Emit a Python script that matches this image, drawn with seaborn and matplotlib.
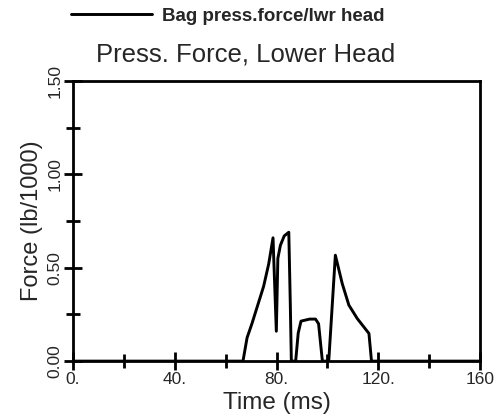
import matplotlib
matplotlib.use("Agg")
import matplotlib.pyplot as plt
import seaborn as sns
import pandas as pd
from matplotlib.ticker import MultipleLocator

time_ms = [0, 66.8, 68.4, 70.3, 74.9, 76.9, 78.6, 79.9, 80.5, 81.5, 83.0, 84.8,
           85.4, 85.8, 87.5, 88.5, 89.6, 93.0, 95.3, 96.5, 98.0, 100.5,
           103.1, 105.8, 108.4, 111.7, 116.3, 117.3, 160]
force = [0, 0, 0.125, 0.20, 0.40, 0.52, 0.66, 0.16, 0.55, 0.62, 0.67, 0.69,
         0.30, 0, 0, 0.15, 0.214, 0.225, 0.225, 0.20, 0, 0,
         0.567, 0.415, 0.30, 0.228, 0.148, 0, 0]

x_ticks = [0, 40, 80, 120, 160]
x_labels = ["0.", "40.", "80.", "120.", "160"]
y_ticks = [0, 0.5, 1.0, 1.5]
y_labels = ["0.00", "0.50", "1.00", "1.50"]

df = pd.DataFrame({"Time (ms)": time_ms, "Force": force})

sns.set_style("ticks")
plt.rcParams["font.family"] = ["Liberation Sans", "DejaVu Sans"]

fig = plt.figure(figsize=(4.95, 4.17), dpi=100)
ax = fig.add_axes([0.1475, 0.134, 0.8225, 0.672])

sns.lineplot(data=df, x="Time (ms)", y="Force", ax=ax, color="black",
             linewidth=2.1, label="Bag press.force/lwr head", sort=False)

ax.set_xlim(0, 160)
ax.set_ylim(0, 1.5)
ax.set_xticks(x_ticks)
ax.set_xticklabels(x_labels, fontsize=12.5)
ax.set_yticks(y_ticks)
ax.set_yticklabels(y_labels, fontsize=12.5, rotation=90, va="center")
ax.xaxis.set_minor_locator(MultipleLocator(20))
ax.yaxis.set_minor_locator(MultipleLocator(0.25))
ax.tick_params(which="major", direction="inout", length=13, width=2, color="black", pad=1)
ax.tick_params(which="minor", direction="inout", length=10, width=2, color="black")
for s in ax.spines.values():
    s.set_visible(True)
    s.set_linewidth(2)
    s.set_color("black")

ax.set_xlabel("Time (ms)", fontsize=17.5, labelpad=4)
ax.set_ylabel("Force (lb/1000)", fontsize=17, labelpad=3)
ax.set_title("Press. Force, Lower Head", fontsize=18.5, pad=14, x=0.425)

ax.legend(loc="center left", bbox_to_anchor=(71 / 495, 1 - 16 / 417),
          bbox_transform=fig.transFigure, frameon=False, handlelength=4.3,
          handletextpad=0.55, borderpad=0, borderaxespad=0,
          prop={"weight": "bold", "size": 13.5})

fig.savefig("out.png", dpi=100)
